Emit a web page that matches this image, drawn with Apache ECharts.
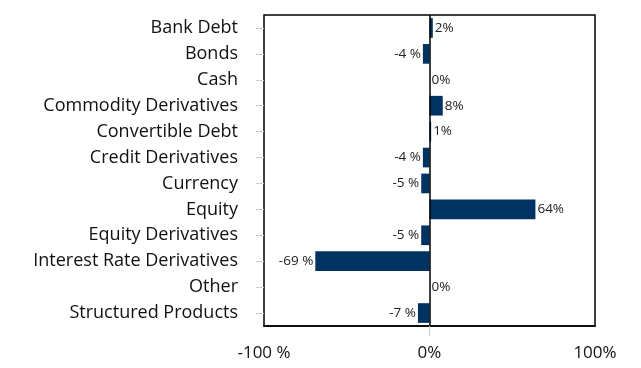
<!DOCTYPE html>
<html><head><meta charset="utf-8">
<script src="https://cdn.jsdelivr.net/npm/echarts@6/dist/echarts.min.js"></script>
<style>html,body{margin:0;padding:0;background:#fff}#c{width:641px;height:368px}</style>
</head><body><div id="c"></div>
<script>
const categories = ["Bank Debt","Bonds","Cash","Commodity Derivatives","Convertible Debt","Credit Derivatives","Currency","Equity","Equity Derivatives","Interest Rate Derivatives","Other","Structured Products"];
const values = [2,-4,0,8,1,-4,-5,64,-5,-69,0,-7];
const xTicks = [-100,0,100];

function pct(v){ return v < 0 ? v + ' %' : v + '%'; }
const font = '"Open Sans", Lato, sans-serif';

const chart = echarts.init(document.getElementById('c'));
chart.setOption({
  animation:false,
  grid:{left:264,right:46,top:15,bottom:42,show:true,borderColor:'#000',borderWidth:1.5,containLabel:false},
  xAxis:{type:'value',min:xTicks[0],max:xTicks[2],interval:100,
    axisLine:{show:true,onZero:false,lineStyle:{color:'#000',width:1.5}},
    axisTick:{show:true,customValues:[0],length:10,lineStyle:{color:'#ccc'}},
    splitLine:{show:false},
    axisLabel:{formatter:pct,fontFamily:font,fontSize:17,color:'#111',margin:19}},
  yAxis:{type:'category',data:categories,inverse:true,
    axisLine:{show:false,onZero:false},
    axisTick:{show:true,alignWithLabel:true,length:8,lineStyle:{color:'#ccc'}},
    axisLabel:{fontFamily:font,fontSize:18,color:'#111',margin:26}},
  series:[{type:'bar',barCategoryGap:'24%',
    data:values.map(v=>({value:v,label:{position:v<0?'left':'right'}})),
    itemStyle:{color:'#003361'},
    label:{show:true,formatter:p=>pct(p.value),fontFamily:font,fontSize:13.5,color:'#222',distance:2},
    markLine:{silent:true,z:10,symbol:'none',label:{show:false},emphasis:{disabled:true},
      lineStyle:{color:'#000',width:1.5,type:'solid',opacity:1},data:[{xAxis:0}]}
  }]
});
</script></body></html>
